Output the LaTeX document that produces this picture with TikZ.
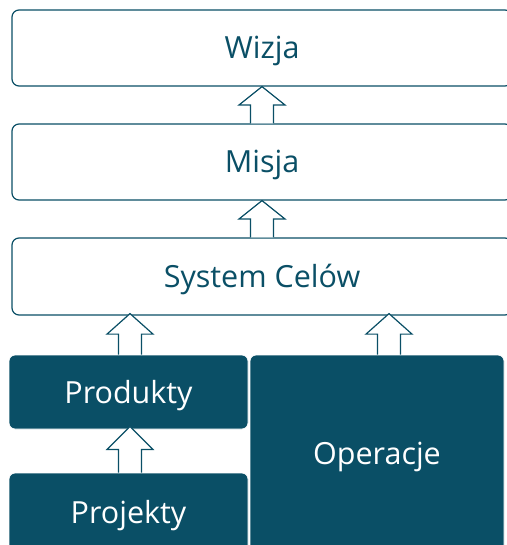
\documentclass[tikz,border=0pt]{standalone}
\usepackage{fontspec}
\setmainfont{Open Sans}
\usepackage{tikz}
\usetikzlibrary{calc}
\definecolor{tealdark}{HTML}{0A4F66}

% hollow block arrow from #1 (bottom) up to #2 (tip)
\newcommand{\blockup}[2]{%
  \path let \p1=#1, \p2=#2, \n1={\y1+0.5*(\y2-\y1)} in
    [blockarrow] (\x1-11.5pt,\y1) -- (\x1-11.5pt,\n1) -- (\x1-23pt,\n1)
    -- (\x1,\y2) -- (\x1+23pt,\n1) -- (\x1+11.5pt,\n1) -- (\x1+11.5pt,\y1);}

\tikzset{
  boxtext/.style={font=\fontsize{30.5}{33}\selectfont, inner sep=0pt,
    text height=22pt, text depth=0pt},
  lightbox/.style={boxtext, draw=tealdark, line width=1.2pt, fill=white,
    rounded corners=7pt, text=tealdark},
  darkbox/.style={boxtext, draw=white, line width=0.8pt, fill=tealdark,
    rounded corners=6pt, text=white},
  blockarrow/.style={draw=tealdark, line width=1.2pt, fill=white, line join=miter}
}

\begin{document}
\begin{tikzpicture}[x=1pt, y=-1pt]
    \useasboundingbox (0,0) rectangle (506,545);
    % Top levels
    \node[lightbox, minimum width=500pt, minimum height=76pt] (wizja) at (262,48) {Wizja};
    \node[lightbox, minimum width=500pt, minimum height=76pt] (misja) at (262,162) {Misja};
    \node[lightbox, minimum width=500pt, minimum height=77pt] (cele) at (262,276.5) {System Celów};
    % Bottom blocks
    \node[darkbox, minimum width=239pt, minimum height=74pt] (produkty) at (128.5,392) {Produkty};
    \node[darkbox, minimum width=239pt, minimum height=78pt] (projekty) at (128.5,512) {Projekty};
    \node[darkbox, minimum width=254pt, minimum height=196pt] (operacje) at (377,453) {Operacje};
    % Arrows
    \blockup{(misja.north)}{(wizja.south)}
    \blockup{(cele.north)}{(misja.south)}
    \blockup{($(produkty.north)+(1.5,0)$)}{($(cele.south)+(-130.5,-2)$)}
    \blockup{($(operacje.north)+(12,0)$)}{($(cele.south)+(127,-2)$)}
    \blockup{($(projekty.north)+(1.5,0)$)}{($(produkty.south)+(1.5,-3)$)}
\end{tikzpicture}
\end{document}
